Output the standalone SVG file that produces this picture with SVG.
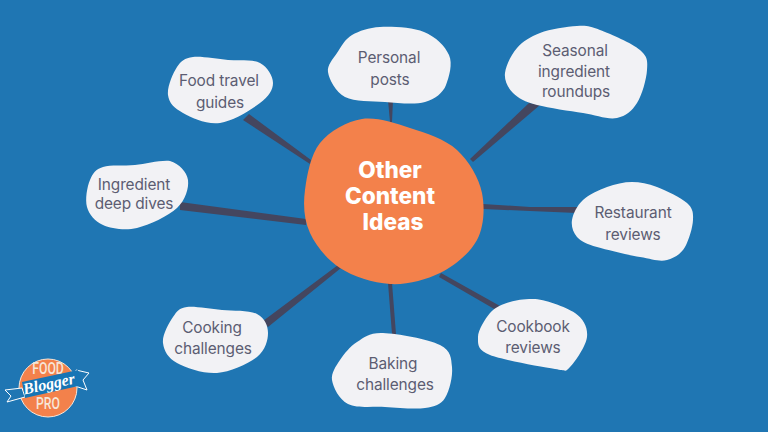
<svg xmlns="http://www.w3.org/2000/svg" width="768" height="432" viewBox="0 0 768 432">
<style>
.blob{fill:#f2f2f5}
.lbl{font-family:"Inter","Noto Sans",sans-serif;font-size:15.4px;letter-spacing:-.1px;fill:#5c5d72;text-anchor:middle}
.ctr{font-family:"Inter","Noto Sans",sans-serif;font-size:22.6px;font-weight:800;fill:#fff;text-anchor:middle}
.con{fill:#44465f}
.lg{font-family:"Roboto","Liberation Sans",sans-serif;font-size:17px;font-weight:500;fill:#f7e6d8;text-anchor:middle}
</style>
<rect width="768" height="432" fill="#1f76b3"/>
<g id="connectors">
<polygon class="con" points="243,120 249,114 311,160 310,164"/>
<polygon class="con" points="388,100 393,100 392,122 390,122"/>
<polygon class="con" points="529,103 540,105 473,162 470,159"/>
<polygon class="con" points="483,204 530,207 577,207 577,213 530,211 483,209"/>
<polygon class="con" points="180,202 306,219 306,225 180,210"/>
<polygon class="con" points="263,321 338,265 341,268 268,327"/>
<polygon class="con" points="388,283 392,283 396,334 392,334"/>
<polygon class="con" points="441,273 500,306 496,310 439,277"/>
</g>
<g id="center">
<path fill="#f3814b" d="M362 119C377 117 394 123 410 128S445 139 457 150S479 178 482 193S484 227 477 240S454.500 266 440 273S407 285 390 284S353 276.500 340 268S316 246 310 233S303 205 305 190S310.500 155 320 143S347 121.500 362 119Z"/>
<text class="ctr" x="390" y="178">Other</text>
<text class="ctr" x="390" y="204">Content</text>
<text class="ctr" x="393" y="230">Ideas</text>
</g>
<g id="seasonal">
<path class="blob" d="M577 26C587 25.500 589.500 26 600 30S632 43 640 50S647.500 61 647 70S642 95 637 103S626 116 617 118S596 115 583 113S549 108 537 105S518 98 513 93S504 80.500 505 73S511 55 517 48S530 37 540 33S567 26.500 577 26Z"/>
<text class="lbl" x="575" y="56">Seasonal</text>
<text class="lbl" x="574" y="77">ingredient</text>
<text class="lbl" x="576" y="97">roundups</text>
</g>
<g id="restaurant">
<path class="blob" d="M632 182C640 182 648 183.500 657 187S681 197.500 687 203S693.300 212.700 693 220S689 240 685 247S674.500 258 667 260S652 259 640 257S607.500 250 597 247S581 241.500 577 237S571 226 572 220S577 205.500 583 200S599 190 607 187S624 182 632 182Z"/>
<text class="lbl" x="633" y="218">Restaurant</text>
<text class="lbl" x="633" y="240">reviews</text>
</g>
<g id="food-travel">
<path class="blob" d="M193 57C201.500 56 217 59 228 60S252.500 59 260 63S273 76 273 83S269 96 260 103S233 121 220 123S192 118 183 113S169 103 168 95S173 73 177 67S184.500 58 193 57Z"/>
<text class="lbl" x="219" y="86">Food travel</text>
<text class="lbl" x="220" y="108">guides</text>
</g>
<g id="personal">
<path class="blob" d="M380 27C391 26.500 412 27 424 32S445 46 449 55S449 77 446 85S435 99 425 102S398 103 385 102S354.500 102 345 97S329 79 328 72S333 59 337 53S345 39 352 35S369 27.500 380 27Z"/>
<text class="lbl" x="389" y="63">Personal</text>
<text class="lbl" x="390" y="85">posts</text>
</g>
<g id="ingredient">
<path class="blob" d="M170 161C179 163.500 187 172 188 180S185.500 200 177 208S149 225 137 228S111 228.500 103 225S89 214.500 87 207S87 187 90 180S95.500 169.500 103 167S124 166 135 165S160 160 170 161Z"/>
<text class="lbl" x="134" y="190">Ingredient</text>
<text class="lbl" x="134" y="209">deep dives</text>
</g>
<g id="cooking">
<path class="blob" d="M187 307C195 306 210 309 222 310S249 310 257 314S268 326 268 333S265.500 350 257 357S230 372 217 373S186 368 177 363S164 351 163 343S169 323 173 317S179 308 187 307Z"/>
<text class="lbl" x="212" y="333">Cooking</text>
<text class="lbl" x="213" y="354">challenges</text>
</g>
<g id="baking">
<path class="blob" d="M383 333C397 333.500 428.500 339 440 345S451 358 452 367S449.500 391 445 398S435 406.500 425 408S398 407.700 385 407S357 408.500 348 404S333 387 332 380S336 366 340 360S350 346.500 357 342S369 332.500 383 333Z"/>
<text class="lbl" x="393" y="369">Baking</text>
<text class="lbl" x="395" y="390">challenges</text>
</g>
<g id="cookbook">
<path class="blob" d="M533 299C544 299 566 307 575 313S588 328 587 337S575 362 570 367S568 371 555 369S503 360 490 355S478 344 478 337S485 319 490 313S503 304 510 302S522 299 533 299Z"/>
<text class="lbl" x="533" y="332">Cookbook</text>
<text class="lbl" x="533" y="353">reviews</text>
</g>
<g id="logo">
<circle cx="48" cy="388" r="29" fill="#f3814b" stroke="#f7e6d8" stroke-width="1"/>
<polygon points="76,370 89,373 83,380 87,390 72,385" fill="#1f76b3" stroke="#fff"/>
<polygon points="22,388 5,390 11,396 7,402 25,397" fill="#1f76b3" stroke="#fff"/>
<polygon points="22,382 78,370 83,385 25,398" fill="#1775b5"/>
<text class="lg" transform="translate(48 374) scale(.72 1)">FOOD</text>
<text class="lg" transform="translate(48 409) scale(.72 1)">PRO</text>
<text x="50" y="389" transform="rotate(-12 50 389)" font-family="Liberation Serif,serif" font-style="italic" font-weight="700" font-size="16" fill="#fff" text-anchor="middle">Blogger</text>
</g>
</svg>
